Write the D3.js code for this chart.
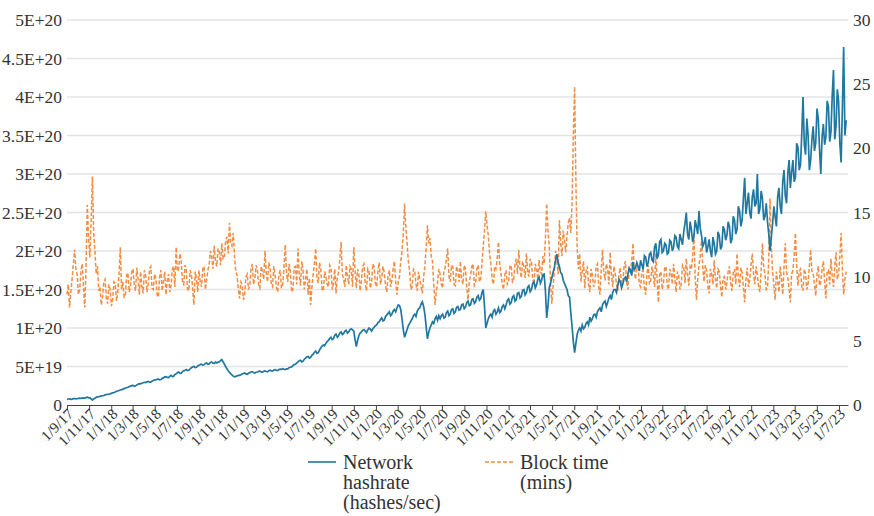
<!DOCTYPE html>
<html>
<head>
<meta charset="utf-8">
<script src="https://cdn.jsdelivr.net/npm/d3@7"></script>
<style>
  body { margin: 0; background: #fff; }
</style>
</head>
<body>
<script>
// ----- DATA: readings twice a week, first week starts 1 Sep 2017 -----
const startDate = new Date(2017, 8, 1);
const endDate = new Date(2023, 6, 26);

// network hashrate, units of 1E+18 hashes/sec, read at the start of each week
const hashrateEH = [
  7.2, 8.0, 7.6, 8.4, 8.1, 8.9, 9.3, 9.0, 10.1,
  9.6, 6.5, 8.8, 10.5, 11.2, 12.0, 13.1, 13.8,
  14.5, 15.8, 17.0, 18.2, 19.5, 20.3, 22.0, 23.1, 24.5,
  25.4, 24.8, 26.9, 27.5, 28.8, 29.2, 30.5, 29.6, 31.8,
  32.5, 33.8, 33.0, 35.2, 36.8, 35.5, 38.4, 37.2,
  40.5, 42.8, 41.2, 44.6, 46.0, 45.1, 48.3, 50.2, 49.0,
  51.5, 53.0, 52.2, 54.6, 53.4, 55.8, 54.0,
  54.5, 56.0, 59.0, 53.0, 47.0, 42.5, 39.0, 36.5, 37.8, 38.5,
  40.2, 41.5, 39.8, 42.0, 43.1, 41.6, 42.9, 44.0, 42.7,
  44.3, 43.0, 45.2, 44.1, 46.0, 44.8, 46.5, 47.2, 46.1,
  47, 49, 51, 53, 56, 58, 57, 61, 63, 62, 66, 70, 68, 74, 78, 80, 84, 88,
  86, 92, 90, 95, 93, 97, 95, 99, 96, 76, 90, 95, 98, 94, 100, 96, 101,
  104, 108, 113, 110, 117, 121, 118, 124, 126, 129, 112, 88, 98, 106, 112,
  118, 122, 126, 134, 118, 86, 100, 108, 112, 110,
  112, 118, 114, 122, 118, 125, 121, 128, 124, 131, 127, 135, 130, 138, 134,
  142, 138, 150, 100, 112, 118, 122, 118, 126, 122, 130,
  130, 138, 133, 142, 137, 146, 141, 150, 146, 155, 150, 160, 156, 166, 162, 170,
  113, 152, 165, 178, 196, 180, 170, 158, 150, 140, 102, 68, 92,
  100, 104, 101, 108, 114, 112, 118, 121, 126, 130, 135, 133, 142, 146, 150,
  155, 160, 157, 166, 170, 175, 186, 178,
  180, 188, 176, 192, 185, 198, 186, 210, 195, 215, 200, 208, 198, 212, 205,
  218, 203, 215, 225, 250, 215, 228, 218, 232, 252, 220, 210, 198, 215, 192,
  210, 200, 220, 206, 228,
  220, 232, 215, 240, 228, 252, 240, 295, 262, 250, 270, 258, 300, 255, 268, 245, 238,
  200, 235, 245, 270, 258, 290, 272, 300, 282, 318, 296, 335, 312, 400, 325,
  350, 318, 362, 340, 372, 300, 365, 348, 388, 355, 435, 362, 395, 315, 465, 370
];

// network hashrate, read half a week later
const hashrateMidEH = [
  7.8, 7.4, 8.2, 7.9, 8.7, 8.5, 9.0, 9.6, 9.4,
  8.0, 7.9, 9.9, 10.8, 11.8, 12.4, 13.6, 14.0,
  15.3, 16.2, 17.8, 18.9, 19.9, 21.3, 22.4, 23.9, 25.2,
  24.6, 26.1, 27.8, 28.2, 29.5, 30.1, 29.8, 31.0, 32.6,
  33.4, 32.6, 34.6, 36.5, 35.8, 37.2, 37.0, 39.5,
  41.9, 41.0, 43.5, 45.2, 44.8, 47.0, 49.4, 48.6, 50.6,
  52.6, 51.8, 54.0, 53.0, 55.2, 54.4, 55.6,
  55.8, 57.5, 56.0, 50.0, 44.5, 40.5, 37.5, 37.2, 38.6, 39.4,
  41.0, 40.4, 41.2, 43.0, 42.2, 42.5, 43.6, 43.0, 43.8,
  43.6, 44.5, 44.4, 45.5, 45.1, 46.0, 46.3, 46.4, 46.9,
  48.5, 49.5, 52.5, 54.5, 57.5, 56, 59.5, 62.5, 61, 64.5, 68.5, 67, 71.5, 76.5, 77,
  82.5, 86.5, 85, 90.5, 88, 93.5, 91.5, 96, 93.5, 98, 97.5, 85, 84, 93.5, 97,
  96, 97.5, 98.5, 99, 103,
  107, 111, 109, 115, 119, 116, 122, 121, 130, 124, 98, 93, 103, 109, 116,
  115, 125, 131, 128, 102, 94, 104, 106, 115, 116,
  116, 113, 120, 116, 124, 119, 127, 123, 130, 125, 133, 129, 137, 132, 140,
  136, 146, 128, 106, 116, 114, 124, 121, 120, 128, 125,
  136, 131, 140, 135, 145, 139, 149, 143, 153, 147, 158, 152, 163, 158, 169, 148,
  128, 158, 172, 188, 185, 172, 162, 154, 142, 120, 82, 80, 97,
  96, 99, 106, 104, 109, 117, 114, 124, 121, 133, 128, 139, 137, 150, 146,
  163, 152, 164, 160, 178, 168, 176, 185,
  174, 182, 194, 180, 196, 188, 205, 190, 212, 198, 210, 196, 214, 200, 220,
  206, 222, 208, 236, 222, 238, 212, 240, 222, 230, 206, 218, 205, 200, 218,
  196, 225, 202, 232, 214,
  238, 210, 245, 222, 258, 232, 268, 248, 276, 242, 280, 262, 248, 278, 240, 262, 222,
  218, 258, 232, 282, 248, 305, 262, 318, 302, 290, 340, 305, 352, 338, 372,
  305, 345, 330, 385, 332, 348, 338, 395, 342, 402, 345, 410, 340, 385, 350
];

// block time in minutes, read at the start of each week
const blockTime = [
  8.6, 7.6, 9.8, 12.1, 10.2, 9.0, 11.0, 7.6, 15.6, 11.5, 17.8, 12.0, 10.8,
  9.2, 8.4, 9.8, 7.9, 9.0, 8.2, 9.5, 8.8, 12.3,
  9.6, 8.5, 10.3, 9.2, 10.6, 8.9, 9.8, 10.4, 8.7, 10.1, 9.4, 10.8, 9.0, 9.9, 8.4, 10.5, 9.6, 8.6, 10.2,
  9.3, 10.8, 12.3, 10.6, 11.2,
  9.4, 10.6, 8.9, 10.2, 7.8, 9.9, 10.5, 9.2, 10.8, 9.7,
  10.9, 11.6, 12.4, 10.8, 11.9, 12.6, 11.5, 13.1, 14.2, 12.4, 11.6, 10.1,
  8.3, 9.4, 8.6,
  10.2, 9.3, 11.0, 9.8, 10.6, 9.1, 10.4, 12.0, 9.6, 10.7, 9.2, 10.1, 8.8, 10.5, 9.4,
  12.5, 9.6, 10.4, 9.0, 10.8, 12.2, 9.3, 10.5, 9.8, 8.6, 7.8, 10.2, 12.2, 9.5, 10.6,
  8.9, 10.0, 9.2, 10.7, 9.5, 8.7, 10.3, 12.7, 9.8, 10.9,
  9.4, 10.6, 12.3, 9.1, 10.2, 9.7, 11.0, 8.9, 10.4, 9.6, 10.8, 9.2, 11.1, 9.9, 10.3,
  8.8, 10.5, 9.7, 11.2, 8.6,
  10.0, 12.0, 15.7, 12.6, 10.4, 9.2,
  10.5, 8.9, 9.8, 8.7,
  10.8, 14.0, 13.0, 11.2, 7.8, 9.5,
  10.2, 9.1, 10.7, 12.2, 9.6, 10.8, 9.3, 10.5, 11.2, 9.4, 10.6, 8.2, 10.1, 11.0, 9.5, 10.9, 9.8,
  12.4, 15.1, 13.2, 11.0, 9.4, 10.6, 12.7, 10.2, 9.0, 10.5,
  9.6, 10.9, 9.8, 11.4, 12.1, 9.9, 10.8, 11.8, 10.0, 11.1, 9.4, 10.6, 11.3, 10.2,
  11.0, 15.7, 12.4, 7.9, 10.4, 11.3, 14.4, 11.6, 12.8, 13.2, 14.6, 15.8, 24.8, 12.2,
  11.8, 10.4, 9.1, 10.8, 8.8, 10.1, 9.5, 11.0, 8.6, 12.1, 9.7, 10.6, 11.9, 9.2, 10.3,
  8.9, 10.7, 9.6, 11.2, 9.0, 10.4, 12.6, 9.8, 10.9,
  9.2, 10.5, 8.6, 10.9, 9.7, 10.2, 11.8, 8.0, 10.4, 9.5,
  10.8, 9.0, 10.3, 11.0, 8.8, 10.1, 9.4, 10.7, 11.4, 9.3,
  10.6, 13.4, 8.2, 10.9, 12.8, 9.6, 10.5, 8.7, 10.2, 11.3,
  9.1, 10.4, 8.4, 10.0, 9.5, 10.8, 8.9, 10.6, 11.8, 9.2,
  10.3, 8.0, 10.7, 9.8, 11.8, 9.4, 10.1, 8.8, 12.6, 10.2,
  9.1, 16.1, 10.4, 8.2, 9.6, 10.8, 8.6, 12.6, 9.9, 8.0,
  10.5, 13.4, 9.3, 10.6, 8.9, 10.2, 9.5, 12.1, 10.3, 8.5,
  10.8, 9.6, 11.2, 8.3, 10.5, 11.4, 9.2, 11.9, 10.2, 13.4,
  8.6, 10.4
];

// block time in minutes, read half a week later
const blockTimeMid = [
  9.4, 8.8, 11.0, 10.6, 8.6, 10.4, 9.2, 10.8, 13.0, 14.2, 13.5, 10.2, 8.9,
  7.8, 9.6, 8.3, 9.4, 7.7, 9.6, 8.1, 10.2, 9.0,
  8.4, 10.1, 8.8, 10.4, 9.3, 10.7, 8.6, 9.2, 10.5, 8.8, 10.6, 9.1, 10.2, 8.6, 10.0, 8.9, 10.4, 9.7, 8.8,
  10.6, 9.2, 10.4, 11.8, 9.6,
  10.9, 9.0, 10.5, 9.1, 10.4, 8.8, 9.6, 10.6, 9.0, 10.5,
  12.0, 10.6, 11.2, 12.2, 10.9, 11.4, 12.8, 11.8, 12.6, 13.4, 10.4, 9.0,
  9.6, 8.2, 10.0,
  9.0, 10.6, 9.4, 10.9, 9.3, 10.8, 9.8, 10.3, 11.1, 9.4, 10.8, 9.2, 10.2, 9.1, 10.8,
  10.2, 11.0, 8.8, 10.7, 9.4, 10.1, 11.2, 9.0, 10.6, 9.9, 9.2, 11.0, 9.8, 11.1, 9.0,
  10.4, 9.4, 10.9, 9.0, 10.6, 10.0, 11.4, 10.2, 9.2, 10.0,
  10.8, 9.2, 10.5, 10.6, 8.9, 10.8, 9.5, 10.6, 9.1, 11.0, 9.5, 10.4, 9.4, 10.8, 9.3,
  10.1, 9.2, 10.6, 9.6, 9.6,
  11.2, 13.4, 13.8, 11.2, 9.0, 10.6,
  9.4, 10.4, 9.2, 10.0,
  12.2, 12.6, 11.6, 9.4, 8.8, 10.6,
  9.4, 10.4, 11.4, 10.0, 10.9, 9.4, 10.8, 9.6, 9.8, 10.9, 9.2, 9.6, 10.8, 9.3, 10.6, 9.6, 11.0,
  13.6, 14.0, 11.8, 9.8, 10.8, 11.4, 11.0, 9.4, 10.2, 9.4,
  10.8, 9.6, 11.0, 10.2, 10.6, 11.2, 9.9, 10.4, 11.4, 9.8, 11.0, 9.8, 10.4, 11.6,
  13.0, 13.6, 9.6, 9.2, 12.0, 10.2, 12.6, 13.6, 11.9, 14.2, 13.4, 21.0, 17.5, 10.6,
  9.6, 11.2, 10.4, 9.4, 10.6, 9.2, 10.8, 9.2, 10.6, 10.4, 11.0, 9.4, 10.2, 10.8, 9.4,
  10.2, 9.2, 10.8, 9.6, 10.6, 11.2, 10.4, 11.0, 9.4,
  10.4, 9.1, 10.2, 9.4, 10.8, 9.2, 9.8, 10.2, 9.0, 10.7,
  9.3, 10.6, 9.4, 9.8, 10.4, 9.0, 10.9, 9.5, 10.2, 10.8,
  11.6, 10.0, 9.8, 11.6, 10.8, 10.9, 9.2, 10.6, 9.4, 9.8,
  10.6, 9.2, 9.9, 9.0, 10.4, 9.5, 10.3, 9.4, 10.0, 10.7,
  9.2, 9.8, 9.2, 10.9, 10.2, 10.8, 9.2, 10.5, 10.8, 9.0,
  11.4, 12.2, 9.4, 10.4, 8.8, 9.8, 10.7, 10.4, 9.0, 10.2,
  11.6, 10.8, 10.4, 9.2, 10.6, 9.0, 10.8, 10.4, 9.4, 10.2,
  9.3, 10.6, 9.6, 10.4, 9.4, 10.0, 10.8, 9.8, 11.6, 10.6,
  9.8
];

const leftTicks = [0, 5e19, 1e20, 1.5e20, 2e20, 2.5e20, 3e20, 3.5e20, 4e20, 4.5e20, 5e20];
const leftTickLabels = ["0", "5E+19", "1E+20", "1.5E+20", "2E+20", "2.5E+20",
  "3E+20", "3.5E+20", "4E+20", "4.5E+20", "5E+20"];
const rightTicks = [0, 5, 10, 15, 20, 25, 30];
const xTickDates = d3.timeMonth.every(2).range(new Date(2017, 8, 1), new Date(2023, 7, 1));

const seriesNames = [["Network", "hashrate", "(hashes/sec)"], ["Block time", "(mins)"]];
const blue = "#20779f";
const orange = "#f28d43";
const serifFace = "'Liberation Serif', monospace";

// join the two readings of each week into one date-ordered table
function weave(weekly, mid) {
  const rows = [];
  weekly.forEach((v, i) => {
    rows.push({ date: d3.timeHour.offset(startDate, 24 * 7 * i), value: v });
    if (i < mid.length) rows.push({ date: d3.timeHour.offset(startDate, 24 * 7 * i + 84), value: mid[i] });
  });
  return rows;
}
const hashRows = weave(hashrateEH, hashrateMidEH);
const blockRows = weave(blockTime, blockTimeMid);

// put the label text inside a serif tspan
function serif(sel, size) {
  sel.each(function () {
    const t = d3.select(this);
    const label = t.text();
    t.text(null)
      .attr("font-family", null)
      .attr("font-size", null)
      .style("font-family", serifFace)
      .style("font-size", size + "px")
      .attr("fill", "#333");
    t.append("tspan")
      .style("font-family", serifFace)
      .style("font-size", size + "px")
      .text(label);
  });
}

// ----- SIZES -----
const w = 874, h = 516;
const mLeft = 67, mRight = 848, mTop = 20, mBottom = 405;

const svg = d3.select("body").append("svg")
  .attr("width", w)
  .attr("height", h);

// ----- SCALES -----
const x = d3.scaleTime().domain([startDate, endDate]).range([mLeft, mRight]);
const yL = d3.scaleLinear().domain([0, 5e20]).range([mBottom, mTop]);
const yR = d3.scaleLinear().domain([0, 30]).range([mBottom, mTop]);

// ----- GRID -----
svg.append("g")
  .selectAll("line")
  .data(leftTicks.slice(1))
  .enter().append("line")
  .attr("x1", mLeft).attr("x2", mRight)
  .attr("y1", d => yL(d)).attr("y2", d => yL(d))
  .attr("stroke", "#e4e4e4")
  .attr("stroke-width", 1.3);

// ----- LEFT AXIS (labels only) -----
const yAxisL = d3.axisLeft(yL)
  .tickValues(leftTicks)
  .tickFormat((d, i) => leftTickLabels[i])
  .tickSize(0)
  .tickPadding(5);
svg.append("g")
  .attr("transform", "translate(" + mLeft + ",0)")
  .call(yAxisL)
  .attr("font-family", null)
  .attr("font-size", null)
  .call(g => g.select(".domain").remove())
  .call(g => serif(g.selectAll("text"), 17.5));

// ----- RIGHT AXIS -----
const yAxisR = d3.axisRight(yR)
  .tickValues(rightTicks)
  .tickSize(0)
  .tickPadding(5);
svg.append("g")
  .attr("transform", "translate(" + mRight + ",0)")
  .call(yAxisR)
  .attr("font-family", null)
  .attr("font-size", null)
  .call(g => g.select(".domain").remove())
  .call(g => serif(g.selectAll("text"), 17.5));

// ----- LINES -----
const hashLine = d3.line()
  .x(d => x(d.date))
  .y(d => yL(d.value * 1e18));

const blockLine = d3.line()
  .x(d => x(d.date))
  .y(d => yR(d.value));

svg.append("path")
  .datum(blockRows)
  .attr("d", blockLine)
  .attr("fill", "none")
  .attr("stroke", orange)
  .attr("stroke-width", 1.5)
  .attr("stroke-dasharray", "4,2");

svg.append("path")
  .datum(hashRows)
  .attr("d", hashLine)
  .attr("fill", "none")
  .attr("stroke", blue)
  .attr("stroke-width", 1.7);

// ----- X AXIS -----
const xAxis = d3.axisBottom(x)
  .tickValues(xTickDates)
  .tickFormat(d3.timeFormat("%-d/%-m/%y"))
  .tickSize(5)
  .tickSizeOuter(0);
svg.append("g")
  .attr("transform", "translate(0," + mBottom + ")")
  .call(xAxis)
  .attr("font-family", null)
  .attr("font-size", null)
  .call(g => g.select(".domain").attr("stroke", "#444").attr("stroke-width", 1.2))
  .call(g => g.selectAll(".tick line").attr("stroke", "#444"))
  .call(g => serif(g.selectAll("text"), 15))
  .call(g => g.selectAll("text")
    .attr("text-anchor", "end")
    .attr("dx", "-0.15em")
    .attr("dy", "0.25em")
    .attr("transform", "rotate(-45)"));

// ----- LEGEND -----
const legend = svg.append("g");
const legendItems = [
  { x: 308, color: blue, dash: null, lines: seriesNames[0] },
  { x: 485, color: orange, dash: "4,2", lines: seriesNames[1] }
];
legendItems.forEach(item => {
  legend.append("line")
    .attr("x1", item.x).attr("x2", item.x + 28)
    .attr("y1", 462).attr("y2", 462)
    .attr("stroke", item.color)
    .attr("stroke-width", 1.6)
    .attr("stroke-dasharray", item.dash);
  item.lines.forEach((t, k) => {
    legend.append("text")
      .attr("x", item.x + 35)
      .attr("y", 469 + k * 20)
      .text(t)
      .call(s => serif(s, 20));
  });
});
</script>
</body>
</html>
